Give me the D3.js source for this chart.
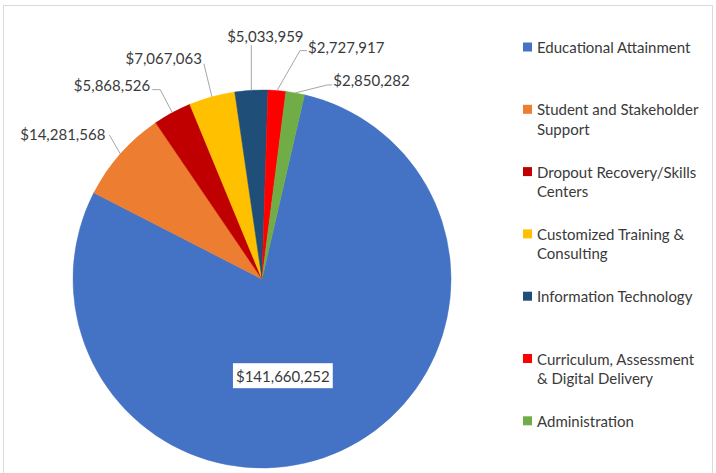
<!DOCTYPE html>
<html>
<head>
<meta charset="utf-8">
<script src="https://cdn.jsdelivr.net/npm/d3@7/dist/d3.min.js"></script>
<style>
  html, body { margin: 0; padding: 0; background: #fff; }
  svg { display: block; }
  text { font-family: Lato, "Open Sans", sans-serif; fill: #3a3a3a; }
</style>
</head>
<body>
<svg id="chart" width="716" height="473"></svg>
<script>
// ---- data ----
const categories = [
  "Educational Attainment",
  "Student and Stakeholder Support",
  "Dropout Recovery/Skills Centers",
  "Customized Training & Consulting",
  "Information Technology",
  "Curriculum, Assessment & Digital Delivery",
  "Administration"
];
const values = [141660252, 14281568, 5868526, 7067063, 5033959, 2727917, 2850282];
const legendLines = [
  ["Educational Attainment"],
  ["Student and Stakeholder", "Support"],
  ["Dropout Recovery/Skills", "Centers"],
  ["Customized Training &", "Consulting"],
  ["Information Technology"],
  ["Curriculum, Assessment", "& Digital Delivery"],
  ["Administration"]
];
const colors = ["#4472C4", "#ED7D31", "#C00000", "#FFC000", "#1F4E79", "#FF0000", "#70AD47"];

// ---- layout (label placement relative to each slice's outer edge) ----
const labelLayout = [
  null,
  { elbow: [-11, -19], tail: 0,  anchor: "end",    text: [-4, -1] },
  { elbow: [-12, -23], tail: -8, anchor: "end",    text: [-2, -5] },
  { elbow: [-8, -33],  tail: 0,  anchor: "end",    text: [-2, -6] },
  { elbow: [0, -45],   tail: 0,  anchor: "middle", text: [14, -9] },
  { elbow: [23, -40],  tail: 7,  anchor: "start",  text: [1, -4] },
  { elbow: [32, -8],   tail: 5,  anchor: "start",  text: [1, -5] }
];

const fmt = d3.format("$,");
const svg = d3.select("#chart");
const fs = 15;

svg.append("rect")
  .attr("x", 3.5).attr("y", 5.5)
  .attr("width", 709).attr("height", 475)
  .attr("fill", "none").attr("stroke", "#d9d9d9").attr("stroke-width", 1);

const cx = 262, cy = 279, r = 189;
const startDeg = 13;

const pie = d3.pie().sort(null).value(d => d)
  .startAngle(startDeg * Math.PI / 180)
  .endAngle((startDeg + 360) * Math.PI / 180);
const arcs = pie(values);
const arc = d3.arc().innerRadius(0).outerRadius(r);

const g = svg.append("g").attr("transform", `translate(${cx},${cy})`);
g.selectAll("path.slice").data(arcs).enter().append("path")
  .attr("class", "slice")
  .attr("d", arc)
  .attr("fill", (d, i) => colors[i])
  .attr("stroke", (d, i) => colors[i])
  .attr("stroke-width", 0.5);

arcs.forEach((d, i) => {
  const mid = (d.startAngle + d.endAngle) / 2;
  const px = r * Math.sin(mid), py = -r * Math.cos(mid);
  if (i === 0) {
    const c = arc.centroid(d);
    const lx = c[0] - 19, ly = c[1] + 11;
    const t = g.append("text")
      .attr("x", lx).attr("y", ly)
      .attr("text-anchor", "middle").attr("dominant-baseline", "central")
      .attr("font-size", fs)
      .text(fmt(values[i]));
    const bb = t.node().getBBox();
    g.insert("rect", "text")
      .attr("x", bb.x - 3).attr("y", ly - 12.5)
      .attr("width", bb.width + 6).attr("height", 25)
      .attr("fill", "#fff");
    return;
  }
  const L = labelLayout[i];
  const ex = px + L.elbow[0], ey = py + L.elbow[1];
  const tx = ex + L.tail;
  const pts = [[px, py], [ex, ey]];
  if (L.tail !== 0) pts.push([tx, ey]);
  g.append("path")
    .attr("d", d3.line()(pts))
    .attr("fill", "none").attr("stroke", "#a6a6a6").attr("stroke-width", 1);
  g.append("text")
    .attr("x", tx + L.text[0]).attr("y", ey + L.text[1])
    .attr("text-anchor", L.anchor).attr("dominant-baseline", "central")
    .attr("font-size", fs)
    .text(fmt(values[i]));
});

const legendX = 523, legendY0 = 47, legendStep = 62.3, lineH = 19.5;
const lg = svg.append("g");
legendLines.forEach((lines, i) => {
  const y = legendY0 + i * legendStep;
  lg.append("rect")
    .attr("x", legendX).attr("y", y - 4.5)
    .attr("width", 9).attr("height", 9)
    .attr("fill", colors[i]);
  lines.forEach((ln, j) => {
    lg.append("text")
      .attr("x", legendX + 14).attr("y", y + j * lineH)
      .attr("dominant-baseline", "central")
      .attr("font-size", fs)
      .text(ln);
  });
});
</script>
</body>
</html>
